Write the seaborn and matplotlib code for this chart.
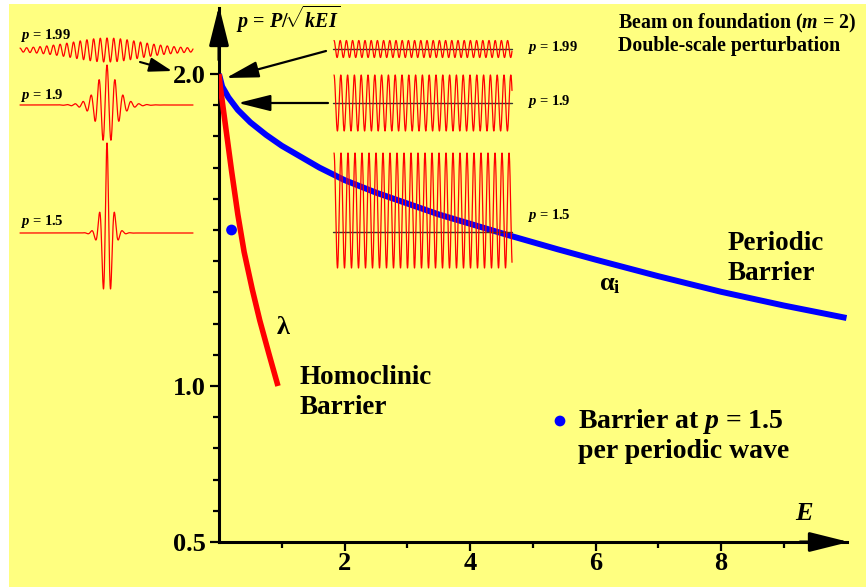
import numpy as np
import matplotlib
matplotlib.use("Agg")
import matplotlib.pyplot as plt
import seaborn as sns
from matplotlib.patches import Rectangle
from matplotlib.ticker import FixedLocator

# ---------------- data ----------------
periodic_E = [0, 0.05, 0.15, 0.3, 0.5, 0.75, 1.0, 1.3, 1.6, 2.0, 2.5, 3.0, 3.5,
              4.0, 4.6, 5.4, 6.0, 7.0, 8.0, 9.0, 10.0]
periodic_p = [2.0, 1.96, 1.925, 1.885, 1.845, 1.805, 1.77, 1.735, 1.70, 1.66, 1.62,
              1.585, 1.55, 1.52, 1.484, 1.438, 1.405, 1.352, 1.302, 1.258, 1.218]
homoclinic_E = [0, 0.02, 0.06, 0.12, 0.2, 0.3, 0.4, 0.53, 0.65, 0.8, 0.94]
homoclinic_p = [2.0, 1.96, 1.90, 1.81, 1.69, 1.55, 1.43, 1.31, 1.21, 1.10, 1.0]
point_E = [0.2]
point_p = [1.5]

x_major = [2, 4, 6, 8]
y_major = [0.5, 1.0, 2.0]
y_major_labels = ["0.5", "1.0", "2.0"]

# inset wave descriptions
left_labels = ["1.99", "1.9", "1.5"]
left_amp = [12, 40, 90]
left_period = [6.7, 8.0, 7.7]
left_decay = [0.029, 0.13, 0.286]
right_labels = ["1.99", "1.9", "1.5"]
right_amp = [8.5, 28, 57.5]
right_offset = [0, 0, 21.5]
right_period = [6.2, 6.8, 7.0]

# ---------------- style ----------------
sns.set_theme(style="white")
plt.rcParams["font.family"] = ["Liberation Serif", "DejaVu Serif"]
plt.rcParams["font.weight"] = "bold"
plt.rcParams["text.color"] = "black"
plt.rcParams["xtick.color"] = "black"
plt.rcParams["ytick.color"] = "black"
plt.rcParams["axes.labelcolor"] = "black"
plt.rcParams["mathtext.fontset"] = "custom"
plt.rcParams["mathtext.rm"] = "Liberation Serif:bold"
plt.rcParams["mathtext.it"] = "Liberation Serif:bold:italic"
plt.rcParams["mathtext.bf"] = "Liberation Serif:bold"

W, H = 866, 587
YEL = "#FFFF80"
fig = plt.figure(figsize=(W / 100, H / 100), dpi=100, facecolor="white")
fig.patches.append(Rectangle((9 / W, 0), 1 - 9 / W, (H - 4) / H, transform=fig.transFigure,
                             facecolor=YEL, edgecolor="none", zorder=-10))

def fx(px):
    return px / W

def fy(py):
    return 1 - py / H

# main axes: x=0 at px 219, x=10 at 847 ; y=0.5 at py 542, y=2 at 74
x0, x1 = 219, 847
yb, yt = 542, 8
ax = fig.add_axes([fx(x0), fy(yb), (x1 - x0) / W, (yb - yt) / H])
ax.set_facecolor("none")
ax.set_xlim(0, (x1 - x0) / 62.75)
ax.set_ylim(0.5, 2.0 + (74 - yt) / 312.0)

sns.lineplot(x=periodic_E, y=periodic_p, ax=ax, color="#0000FF", lw=4.3, sort=False,
             solid_capstyle="butt", zorder=3)
sns.lineplot(x=homoclinic_E, y=homoclinic_p, ax=ax, color="#FF0000", lw=4.0, sort=False,
             solid_capstyle="butt", zorder=3)
sns.scatterplot(x=point_E, y=point_p, ax=ax, color="#0000FF", s=60, edgecolor="none", zorder=4)

for s in ["top", "right"]:
    ax.spines[s].set_visible(False)
for s in ["left", "bottom"]:
    ax.spines[s].set_linewidth(2.2)
    ax.spines[s].set_color("black")
ax.xaxis.set_major_locator(FixedLocator(x_major))
ax.xaxis.set_minor_locator(FixedLocator([1, 3, 5, 7, 9]))
ax.yaxis.set_major_locator(FixedLocator(y_major))
ax.yaxis.set_minor_locator(FixedLocator([0.6, 0.7, 0.8, 0.9, 1.1, 1.2, 1.3, 1.4, 1.5, 1.6, 1.7, 1.8, 1.9]))
ax.set_xticklabels([str(v) for v in x_major])
ax.set_yticklabels(y_major_labels)
ax.tick_params(which="major", direction="out", length=6.5, width=1.6, labelsize=19,
               colors="black", pad=1)
ax.tick_params(axis="y", which="major", pad=3)
ax.tick_params(which="minor", direction="out", length=4, width=1.6, colors="black")
ax.tick_params(left=True, bottom=True, which="both")
for lab in ax.get_xticklabels() + ax.get_yticklabels():
    lab.set_fontweight("bold")
    lab.set_color("black")
ax.set_xlabel("")
ax.set_ylabel("")

# ---------------- overlay in pixel coordinates ----------------
ov = fig.add_axes([0, 0, 1, 1])
ov.set_xlim(0, W)
ov.set_ylim(H, 0)
ov.axis("off")
ov.patch.set_alpha(0)

# axis arrowheads
ov.annotate("", xy=(849, 542), xytext=(800, 542),
            arrowprops=dict(arrowstyle="-|>,head_length=1.2,head_width=0.3", lw=2.2,
                            color="black", mutation_scale=20, shrinkA=0, shrinkB=0))
ov.annotate("", xy=(219, 6), xytext=(219, 60),
            arrowprops=dict(arrowstyle="-|>,head_length=1.2,head_width=0.3", lw=2.2,
                            color="black", mutation_scale=20, shrinkA=0, shrinkB=0))

# pointer arrows
arrow_kw = dict(arrowstyle="-|>,head_length=1.0,head_width=0.25", lw=1.6, color="black",
                mutation_scale=20, shrinkA=0, shrinkB=0)
ov.annotate("", xy=(226, 78), xytext=(326, 51), arrowprops=arrow_kw)
ov.annotate("", xy=(238, 103), xytext=(328, 103), arrowprops=arrow_kw)
ov.annotate("", xy=(172, 71), xytext=(140, 62),
            arrowprops=dict(arrowstyle="-|>,head_length=0.7,head_width=0.22", lw=1.5,
                            color="black", mutation_scale=20, shrinkA=0, shrinkB=0))

# left localized waves
left_base = [50, 105, 233]
xl = np.linspace(20, 193, 3000)
for amp, per, dec, base in zip(left_amp, left_period, left_decay, left_base):
    u = xl - 107
    w = amp * np.cos(2 * np.pi * u / per) / np.cosh(dec * u)
    ov.plot(xl, base - w, color="#FF0000", lw=0.9, zorder=5)

# right periodic waves
right_base = [49, 103, 232]
xr = np.linspace(334, 512, 3000)
for amp, off, per, base in zip(right_amp, right_offset, right_period, right_base):
    ov.plot([333, 512], [base, base], color="#333333", lw=1.0, zorder=5)
    w = off + amp * np.cos(2 * np.pi * (xr - 334) / per)
    ov.plot(xr, base - w, color="#FF0000", lw=0.9, zorder=6)

# small labels
for lab, yy in zip(left_labels, [36, 95, 222]):
    ov.text(20, yy, r"$p$ = " + lab, fontsize=10.5, fontweight="bold", va="center", ha="left")
for lab, yy in zip(right_labels, [47, 101, 215]):
    ov.text(527, yy, r"$p$ = " + lab, fontsize=10.5, fontweight="bold", va="center", ha="left")

ov.text(236, 28, r"$p$ = $P/\!\sqrt{kEI}$", fontsize=14.5, va="baseline", ha="left")
ov.text(618, 28.5, r"Beam on foundation ($m$ = 2)", fontsize=14.3, fontweight="bold",
        va="baseline", ha="left")
ov.text(618, 51, "Double-scale perturbation", fontsize=14.3, fontweight="bold",
        va="baseline", ha="left")

ov.text(283, 327, "λ", fontsize=19, fontweight="bold", va="center", ha="center")
ov.text(300, 378, "Homoclinic", fontsize=19.5, fontweight="bold", va="center", ha="left")
ov.text(300, 408, "Barrier", fontsize=19.5, fontweight="bold", va="center", ha="left")
ov.text(728, 244, "Periodic", fontsize=19.5, fontweight="bold", va="center", ha="left")
ov.text(728, 273, "Barrier", fontsize=19.5, fontweight="bold", va="center", ha="left")
ov.text(599, 284, r"α$_\mathregular{i}$", fontsize=19, fontweight="bold", va="center", ha="left")
ov.text(795, 514, r"$E$", fontsize=19, va="center", ha="left")

ov.scatter([560], [421], s=60, color="#0000FF", edgecolor="none", zorder=5)
ov.text(578, 421, r"Barrier at $p$ = 1.5", fontsize=20, fontweight="bold", va="center", ha="left")
ov.text(578, 452, "per periodic wave", fontsize=20, fontweight="bold", va="center", ha="left")

fig.savefig("out.png", dpi=100, facecolor="white")
